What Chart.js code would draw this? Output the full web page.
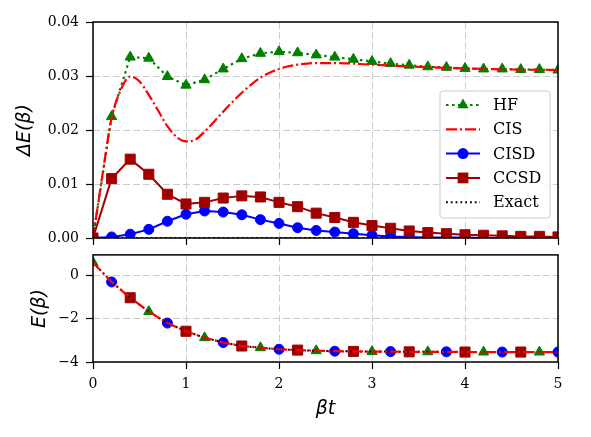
<!DOCTYPE html>
<html>
<head>
<meta charset="utf-8">
<script src="https://cdn.jsdelivr.net/npm/chart.js@4.4.0/dist/chart.umd.min.js"></script>
<style>
  html, body { margin: 0; padding: 0; background: #fff; }
  #wrap { position: relative; width: 591px; height: 437px; }
  #top { position: absolute; left: 0; top: 0; width: 591px; height: 248px; }
  #bottom { position: absolute; left: 0; top: 248px; width: 591px; height: 189px; }
</style>
</head>
<body>
<div id="wrap">
  <canvas id="top" width="591" height="248"></canvas>
  <canvas id="bottom" width="591" height="189"></canvas>
</div>
<script>
// beta*t grid shared by the marker series
const betaT = [0, 0.2, 0.4, 0.6, 0.8, 1.0, 1.2, 1.4, 1.6, 1.8, 2.0, 2.2, 2.4,
  2.6, 2.8, 3.0, 3.2, 3.4, 3.6, 3.8, 4.0, 4.2, 4.4, 4.6, 4.8, 5.0];

// top panel: Delta E(beta)
const hfDelta = [0, 0.0225, 0.0335, 0.0333, 0.0299, 0.0283, 0.0293, 0.0313, 0.0332,
  0.0342, 0.0345, 0.0343, 0.0339, 0.0335, 0.0331, 0.0327, 0.0323, 0.0320, 0.0317,
  0.0316, 0.0314, 0.0313, 0.0313, 0.0312, 0.0312, 0.0311];
const cisdDelta = [0, 0.0002, 0.0007, 0.0016, 0.0031, 0.0044, 0.0050, 0.0048, 0.0043,
  0.0034, 0.0027, 0.0019, 0.0014, 0.0011, 0.0008, 0.0005, 0.0003, 0.0002, 0.0001,
  0.0001, 0.0001, 0, 0, 0, 0, 0];
const ccsdDelta = [0, 0.0110, 0.0146, 0.0118, 0.0081, 0.0063, 0.0066, 0.0074, 0.0078,
  0.0076, 0.0066, 0.0058, 0.0046, 0.0038, 0.0029, 0.0023, 0.0018, 0.0013, 0.0010,
  0.0008, 0.0006, 0.0005, 0.0004, 0.0003, 0.0003, 0.0002];
const exactDelta = [0, 0, 0, 0, 0, 0, 0, 0, 0, 0, 0, 0, 0, 0, 0, 0, 0, 0, 0, 0, 0, 0, 0, 0, 0, 0];

// CIS is a smooth curve without markers
const cisT = [0, 0.1, 0.2, 0.3, 0.4, 0.5, 0.6, 0.7, 0.8, 0.9, 1.0, 1.1, 1.2, 1.3, 1.4,
  1.5, 1.6, 1.7, 1.8, 1.9, 2.0, 2.1, 2.2, 2.3, 2.4, 2.6, 3.0, 3.5, 4.0, 4.5, 5.0];
const cisDelta = [0, 0.0115, 0.0222, 0.0275, 0.0299, 0.0290, 0.0265, 0.0236, 0.0207,
  0.0187, 0.0179, 0.0182, 0.0197, 0.0215, 0.0234, 0.0252, 0.0269, 0.0284, 0.0297,
  0.0306, 0.0313, 0.0318, 0.0321, 0.0323, 0.0324, 0.0324, 0.0321, 0.0317, 0.0314,
  0.0312, 0.0311];

// bottom panel: E(beta), all methods coincide at this scale
const energy = [0.6, -0.3, -1.03, -1.67, -2.2, -2.58, -2.88, -3.1, -3.26, -3.34, -3.41,
  -3.45, -3.48, -3.5, -3.51, -3.52, -3.52, -3.53, -3.53, -3.53, -3.54, -3.54, -3.54,
  -3.54, -3.54, -3.54];

const xTicks = [0, 1, 2, 3, 4, 5];
const topTicks = [0, 0.01, 0.02, 0.03, 0.04];
const bottomTicks = [-4, -2, 0];

const GREEN = '#008000', RED = '#ff0000', BLUE = '#0000ff', DARKRED = '#a00000', BLACK = '#000000';
const tickFont = { family: 'DejaVu Serif', size: 14 };
const labelFont = { family: 'DejaVu Sans', size: 19, style: 'italic', lineHeight: 1.2 };
const gridColor = '#cccccc';

function pts(xs, ys) {
  return xs.map((x, i) => ({ x: x, y: ys[i] }));
}

function xScale(showLabels) {
  return {
    type: 'linear', min: 0, max: 5,
    afterBuildTicks: s => { s.ticks = xTicks.map(v => ({ value: v })); },
    afterFit: s => {
      s.height = showLabels ? 75 : 10;
      s.paddingLeft = 0; s.paddingRight = 0;
    },
    grid: { color: gridColor, lineWidth: 1, tickColor: BLACK, tickLength: 7, tickWidth: 1.2 },
    border: { display: false, dash: [7, 3] },
    ticks: { display: showLabels, padding: 7, color: BLACK, font: tickFont, maxRotation: 0, autoSkip: false },
    title: { display: showLabels, text: 'βt', color: BLACK, font: labelFont, padding: { top: 0, bottom: 17 } }
  };
}

function yScale(min, max, ticks, fmt, label, titlePad) {
  return {
    min: min, max: max,
    afterBuildTicks: s => { s.ticks = ticks.map(v => ({ value: v })); },
    afterFit: s => {
      s.width = 93;
      s.paddingTop = 0; s.paddingBottom = 0;
    },
    grid: { color: gridColor, lineWidth: 1, tickColor: BLACK, tickLength: 7, tickWidth: 1.2 },
    border: { display: false, dash: [7, 3] },
    ticks: { callback: fmt, padding: 7, color: BLACK, font: tickFont },
    title: { display: true, text: label, color: BLACK, font: labelFont, padding: { top: titlePad, bottom: 0 } }
  };
}

const framePlugin = {
  id: 'frame',
  afterDatasetsDraw(chart) {
    const { ctx, chartArea: a } = chart;
    ctx.save();
    ctx.strokeStyle = BLACK;
    ctx.lineWidth = 1.5;
    ctx.strokeRect(a.left, a.top, a.right - a.left, a.bottom - a.top);
    ctx.restore();
  }
};

function marker(ctx, style, x, y, r, color) {
  ctx.fillStyle = color;
  ctx.beginPath();
  if (style === 'circle') {
    ctx.arc(x, y, r, 0, Math.PI * 2);
  } else if (style === 'rect') {
    const s = r * Math.SQRT1_2;
    ctx.rect(x - s, y - s, 2 * s, 2 * s);
  } else if (style === 'triangle') {
    for (let k = 0; k < 3; k++) {
      const a = k * 2 * Math.PI / 3;
      const px = x + Math.sin(a) * r, py = y - Math.cos(a) * r;
      if (k === 0) ctx.moveTo(px, py); else ctx.lineTo(px, py);
    }
    ctx.closePath();
  }
  ctx.fill();
}

// legend box inside the upper panel
const legendPlugin = {
  id: 'boxLegend',
  afterDraw(chart) {
    const ctx = chart.ctx;
    const bx = 440, by = 91, bw = 110, bh = 127, rad = 3;
    ctx.save();
    ctx.beginPath();
    ctx.moveTo(bx + rad, by);
    ctx.arcTo(bx + bw, by, bx + bw, by + bh, rad);
    ctx.arcTo(bx + bw, by + bh, bx, by + bh, rad);
    ctx.arcTo(bx, by + bh, bx, by, rad);
    ctx.arcTo(bx, by, bx + bw, by, rad);
    ctx.closePath();
    ctx.fillStyle = 'rgba(255,255,255,0.85)';
    ctx.fill();
    ctx.strokeStyle = '#cccccc';
    ctx.lineWidth = 1;
    ctx.stroke();

    chart.data.datasets.forEach((ds, i) => {
      const y = 105 + i * 24.3;
      ctx.save();
      ctx.strokeStyle = ds.borderColor;
      ctx.lineWidth = ds.borderWidth;
      ctx.setLineDash(ds.borderDash || []);
      ctx.beginPath();
      ctx.moveTo(446, y);
      ctx.lineTo(480, y);
      ctx.stroke();
      ctx.restore();
      if (ds.pointRadius > 0) marker(ctx, ds.pointStyle, 463, y, ds.pointRadius + 0.5, ds.borderColor);
      ctx.fillStyle = BLACK;
      ctx.font = '16px "DejaVu Serif"';
      ctx.textBaseline = 'middle';
      ctx.textAlign = 'left';
      ctx.fillText(ds.label, 493, y + 1);
    });
    ctx.restore();
  }
};

const styles = {
  HF: { borderColor: GREEN, backgroundColor: GREEN, borderWidth: 2.2, borderDash: [2.5, 3.5], pointStyle: 'triangle', r: 5.9 },
  CIS: { borderColor: RED, backgroundColor: RED, borderWidth: 2.2, borderDash: [11, 3, 2, 3], pointStyle: 'circle', r: 0 },
  CISD: { borderColor: BLUE, backgroundColor: BLUE, borderWidth: 2, borderDash: [], pointStyle: 'circle', r: 5 },
  CCSD: { borderColor: DARKRED, backgroundColor: DARKRED, borderWidth: 2, borderDash: [], pointStyle: 'rect', r: 7.1 },
  Exact: { borderColor: BLACK, backgroundColor: BLACK, borderWidth: 2, borderDash: [1.8, 3], pointStyle: 'circle', r: 0 }
};

function dataset(name, data, order, radius, extra) {
  const st = styles[name];
  return Object.assign({
    label: name,
    data: data,
    order: order,
    borderColor: st.borderColor,
    backgroundColor: st.backgroundColor,
    borderWidth: st.borderWidth,
    borderDash: st.borderDash,
    pointStyle: st.pointStyle,
    pointRadius: radius,
    pointBackgroundColor: st.borderColor,
    pointBorderColor: st.borderColor,
    pointBorderWidth: 1,
    tension: 0,
    fill: false,
    clip: 0
  }, extra || {});
}

const common = {
  responsive: false,
  animation: false,
  events: [],
  plugins: { legend: { display: false }, tooltip: { enabled: false } }
};

new Chart(document.getElementById('top'), {
  type: 'line',
  data: {
    datasets: [
      dataset('HF', pts(betaT, hfDelta), 5, styles.HF.r),
      dataset('CIS', pts(cisT, cisDelta), 4, 0, { cubicInterpolationMode: 'monotone' }),
      dataset('CISD', pts(betaT, cisdDelta), 3, styles.CISD.r),
      dataset('CCSD', pts(betaT, ccsdDelta), 2, styles.CCSD.r),
      dataset('Exact', pts(betaT, exactDelta), 1, 0)
    ]
  },
  options: Object.assign({}, common, {
    layout: { padding: { left: 0, right: 33, top: 22, bottom: 0 } },
    scales: {
      x: xScale(false),
      y: yScale(0, 0.04, topTicks, v => v.toFixed(2), 'ΔE(β)', 13.6)
    }
  }),
  plugins: [framePlugin, legendPlugin]
});

// markers in the lower panel are staggered: every third point, shifted per method;
// only the CIS and exact curves are drawn as lines there
function every3(offset, r) {
  return ctx => (ctx.dataIndex % 3 === offset ? r : 0);
}

new Chart(document.getElementById('bottom'), {
  type: 'line',
  data: {
    datasets: [
      dataset('HF', pts(betaT, energy), 5, every3(0, styles.HF.r), { showLine: false }),
      dataset('CIS', pts(betaT, energy), 1, 0),
      dataset('CISD', pts(betaT, energy), 4, every3(1, styles.CISD.r), { showLine: false }),
      dataset('CCSD', pts(betaT, energy), 3, every3(2, styles.CCSD.r), { showLine: false }),
      dataset('Exact', pts(betaT, energy), 2, 0)
    ]
  },
  options: Object.assign({}, common, {
    layout: { padding: { left: 0, right: 33, top: 5, bottom: 0 } },
    scales: {
      x: xScale(true),
      y: yScale(-4, 0.95, bottomTicks, v => (v < 0 ? '\u2212' + Math.abs(v) : String(v)), 'E(β)', 28.6)
    }
  }),
  plugins: [framePlugin]
});
</script>
</body>
</html>
